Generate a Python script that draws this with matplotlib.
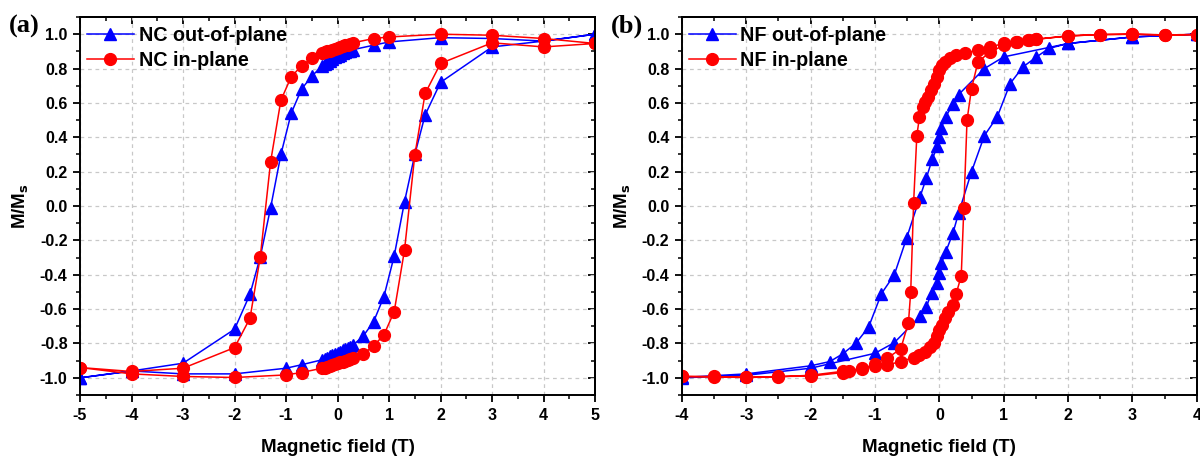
"""
Normalised M-H hysteresis loops for NC and NF samples (two panels).
"""
import matplotlib
matplotlib.use("Agg")
import matplotlib.pyplot as plt
from matplotlib.ticker import MultipleLocator

plt.rcParams['font.family'] = ['Liberation Sans', 'DejaVu Sans']
plt.rcParams['axes.unicode_minus'] = False

# ---- panel (a): NC ----
nc_oop_h_dn = [5, 4, 3, 2, 1, 0.7, 0.3, 0.25, 0.2, 0.15, 0.1, 0.05, 0, -0.05, -0.1, -0.15,
               -0.2, -0.25, -0.3, -0.5, -0.7, -0.9, -1.1, -1.3, -1.5, -1.7, -2, -3, -4, -5]
nc_oop_m_dn = [1.0, 0.96, 0.975, 0.98, 0.955, 0.936, 0.91, 0.905, 0.90, 0.895, 0.89, 0.88,
               0.875, 0.865, 0.855, 0.845, 0.835, 0.825, 0.815, 0.756, 0.68, 0.54, 0.30,
               -0.01, -0.295, -0.513, -0.717, -0.915, -0.96, -1.0]
nc_oop_h_up = [-5, -4, -3, -2, -1, -0.7, -0.3, -0.25, -0.2, -0.15, -0.1, -0.05, 0, 0.05, 0.1,
               0.15, 0.2, 0.25, 0.3, 0.5, 0.7, 0.9, 1.1, 1.3, 1.5, 1.7, 2, 3, 4, 5]
nc_oop_m_up = [-1.0, -0.96, -0.977, -0.977, -0.944, -0.924, -0.895, -0.89, -0.885, -0.875,
               -0.87, -0.862, -0.855, -0.848, -0.84, -0.835, -0.825, -0.818, -0.81, -0.756,
               -0.673, -0.527, -0.29, 0.025, 0.30, 0.53, 0.72, 0.926, 0.96, 1.0]

nc_ip_h_dn = [5, 4, 3, 2, 1, 0.7, 0.3, 0.25, 0.2, 0.15, 0.1, 0.05, 0, -0.05, -0.1, -0.15,
              -0.2, -0.25, -0.3, -0.5, -0.7, -0.9, -1.1, -1.3, -1.5, -1.7, -2, -3, -4, -5]
nc_ip_m_dn = [0.946, 0.975, 0.994, 1.0, 0.984, 0.975, 0.95, 0.945, 0.94, 0.935, 0.93, 0.925,
              0.92, 0.915, 0.91, 0.905, 0.90, 0.895, 0.89, 0.859, 0.816, 0.752, 0.616,
              0.258, -0.295, -0.653, -0.824, -0.944, -0.963, -0.94]
nc_ip_h_up = [-5, -4, -3, -2, -1, -0.7, -0.3, -0.25, -0.2, -0.15, -0.1, -0.05, 0, 0.05, 0.1,
              0.15, 0.2, 0.25, 0.3, 0.5, 0.7, 0.9, 1.1, 1.3, 1.5, 1.7, 2, 3, 4, 5]
nc_ip_m_up = [-0.94, -0.977, -0.992, -0.998, -0.983, -0.969, -0.944, -0.94, -0.935, -0.93,
              -0.925, -0.92, -0.915, -0.91, -0.905, -0.90, -0.895, -0.89, -0.886, -0.86,
              -0.814, -0.75, -0.614, -0.256, 0.297, 0.655, 0.83, 0.95, 0.926, 0.946]

# ---- panel (b): NF ----
nf_oop_h_dn = [4, 3, 2, 1.0, 0.7, 0.3, 0.21, 0.1, 0.03, 0.0, -0.03, -0.11, -0.2, -0.3,
               -0.51, -0.7, -0.9, -1.1, -1.3, -1.5, -1.7, -2.0, -3.0, -4.0]
nf_oop_m_dn = [1.0, 0.984, 0.946, 0.868, 0.80, 0.649, 0.593, 0.52, 0.455, 0.403, 0.349,
               0.273, 0.165, 0.054, -0.188, -0.40, -0.51, -0.705, -0.80, -0.86, -0.905,
               -0.93, -0.977, -0.998]
nf_oop_h_up = [-4, -3, -2, -1, -0.7, -0.3, -0.2, -0.12, -0.04, 0.0, 0.03, 0.1, 0.21, 0.3,
               0.5, 0.7, 0.9, 1.1, 1.3, 1.5, 1.7, 2, 3, 4]
nf_oop_m_up = [-1.0, -0.985, -0.944, -0.857, -0.795, -0.643, -0.585, -0.504, -0.446, -0.391,
               -0.334, -0.266, -0.159, -0.04, 0.20, 0.41, 0.52, 0.713, 0.81, 0.865, 0.917,
               0.946, 0.984, 1.0]

nf_ip_h_dn = [4, 3.5, 3, 2.5, 2, 1.5, 1.38, 1.19, 1.0, 0.79, 0.6, 0.4, 0.26, 0.17, 0.09,
              0.04, 0.0, -0.04, -0.08, -0.13, -0.18, -0.22, -0.26, -0.31, -0.35, -0.40,
              -0.445, -0.48, -0.6, -0.81, -1.0, -1.2, -1.4, -1.5, -2.0, -2.5, -3.0, -3.5, -4.0]
nf_ip_m_dn = [0.998, 0.996, 1.0, 0.998, 0.99, 0.971, 0.965, 0.955, 0.946, 0.926, 0.907,
              0.891, 0.878, 0.859, 0.839, 0.82, 0.79, 0.752, 0.713, 0.674, 0.636, 0.606,
              0.574, 0.516, 0.41, 0.02, -0.498, -0.678, -0.831, -0.886, -0.918, -0.95,
              -0.963, -0.969, -0.99, -0.992, -0.998, -0.992, -0.992]
nf_ip_h_up = [-4, -3.5, -3, -2.5, -2, -1.5, -1.2, -1.0, -0.81, -0.6, -0.4, -0.31, -0.22,
              -0.145, -0.08, -0.03, 0.0, 0.04, 0.09, 0.14, 0.21, 0.26, 0.34, 0.38, 0.43,
              0.5, 0.6, 0.79, 1.0, 1.2, 1.4, 1.5, 2.0, 2.5, 3, 3.5, 4]
nf_ip_m_up = [-0.992, -0.995, -0.998, -0.994, -0.985, -0.962, -0.945, -0.934, -0.925,
              -0.905, -0.882, -0.866, -0.847, -0.822, -0.80, -0.756, -0.72, -0.692, -0.653,
              -0.614, -0.576, -0.512, -0.407, -0.013, 0.50, 0.684, 0.839, 0.897, 0.935,
              0.955, 0.965, 0.97, 0.99, 0.998, 1.0, 0.996, 0.998]

BLUE = '#0000ff'
RED = '#ff0000'


def draw_loop(ax, h_dn, m_dn, h_up, m_up, color, marker, ms, label):
    h = h_dn + h_up
    m = m_dn + m_up
    ax.plot(h, m, color=color, lw=1.1, marker=marker, ms=ms, mfc=color, mec=color,
            label=label)


def style_axes(ax, xlim, tag):
    ax.set_xlim(*xlim)
    ax.set_ylim(-1.1, 1.1)
    ax.xaxis.set_major_locator(MultipleLocator(1))
    ax.xaxis.set_minor_locator(MultipleLocator(0.5))
    ax.yaxis.set_major_locator(MultipleLocator(0.2))
    ax.yaxis.set_minor_locator(MultipleLocator(0.1))
    ax.yaxis.set_major_formatter(plt.FormatStrFormatter('%.1f'))
    ax.grid(True, which='major', color='#c8c8c8', ls=(0, (3, 3)), lw=0.9)
    ax.set_axisbelow(True)
    for sp in ax.spines.values():
        sp.set_linewidth(1.4)
    ax.tick_params(which='major', direction='out', length=5, width=1.3,
                   labelsize=11.5, pad=4)
    ax.tick_params(which='minor', direction='out', length=3, width=1.1)
    for lab in ax.get_xticklabels() + ax.get_yticklabels():
        lab.set_fontweight('bold')
    # top / right ticks point inward, no labels
    top = ax.secondary_xaxis('top')
    top.xaxis.set_major_locator(MultipleLocator(1))
    top.xaxis.set_minor_locator(MultipleLocator(0.5))
    top.tick_params(which='major', direction='in', length=5, width=1.3, labeltop=False)
    top.tick_params(which='minor', direction='in', length=3, width=1.1)
    top.spines['top'].set_linewidth(1.4)
    right = ax.secondary_yaxis('right')
    right.yaxis.set_major_locator(MultipleLocator(0.2))
    right.yaxis.set_minor_locator(MultipleLocator(0.1))
    right.tick_params(which='major', direction='in', length=5, width=1.3, labelright=False)
    right.tick_params(which='minor', direction='in', length=3, width=1.1)
    right.spines['right'].set_linewidth(1.4)

    ax.set_xlabel('Magnetic field (T)', fontsize=13.5, fontweight='bold', labelpad=12)
    ax.set_ylabel(r'M/M$_\mathbf{s}$', fontsize=13.5, fontweight='bold', labelpad=6)
    ax.text(-0.138, 0.975, tag, transform=ax.transAxes, fontsize=19, fontweight='bold',
            family='Liberation Serif', va='center', ha='left')
    ax.legend(loc='upper left', bbox_to_anchor=(0.014, 0.977), frameon=False,
              prop={'weight': 'bold', 'size': 14.2}, handlelength=2.35, handletextpad=0.25,
              labelspacing=0.3, borderaxespad=0, borderpad=0)


fig = plt.figure(figsize=(12, 4.59), dpi=100)
ax_a = fig.add_axes([0.0667, 0.1394, 0.4292, 0.8235])
ax_b = fig.add_axes([0.5683, 0.1394, 0.4290, 0.8235])

draw_loop(ax_a, nc_oop_h_dn, nc_oop_m_dn, nc_oop_h_up, nc_oop_m_up, BLUE, '^', 8.5,
          'NC out-of-plane')
draw_loop(ax_a, nc_ip_h_dn, nc_ip_m_dn, nc_ip_h_up, nc_ip_m_up, RED, 'o', 8.5,
          'NC in-plane')
style_axes(ax_a, (-5, 5), '(a)')

draw_loop(ax_b, nf_oop_h_dn, nf_oop_m_dn, nf_oop_h_up, nf_oop_m_up, BLUE, '^', 8.5,
          'NF out-of-plane')
draw_loop(ax_b, nf_ip_h_dn, nf_ip_m_dn, nf_ip_h_up, nf_ip_m_up, RED, 'o', 8.5,
          'NF in-plane')
style_axes(ax_b, (-4, 4), '(b)')

fig.savefig('out.png', dpi=100)
